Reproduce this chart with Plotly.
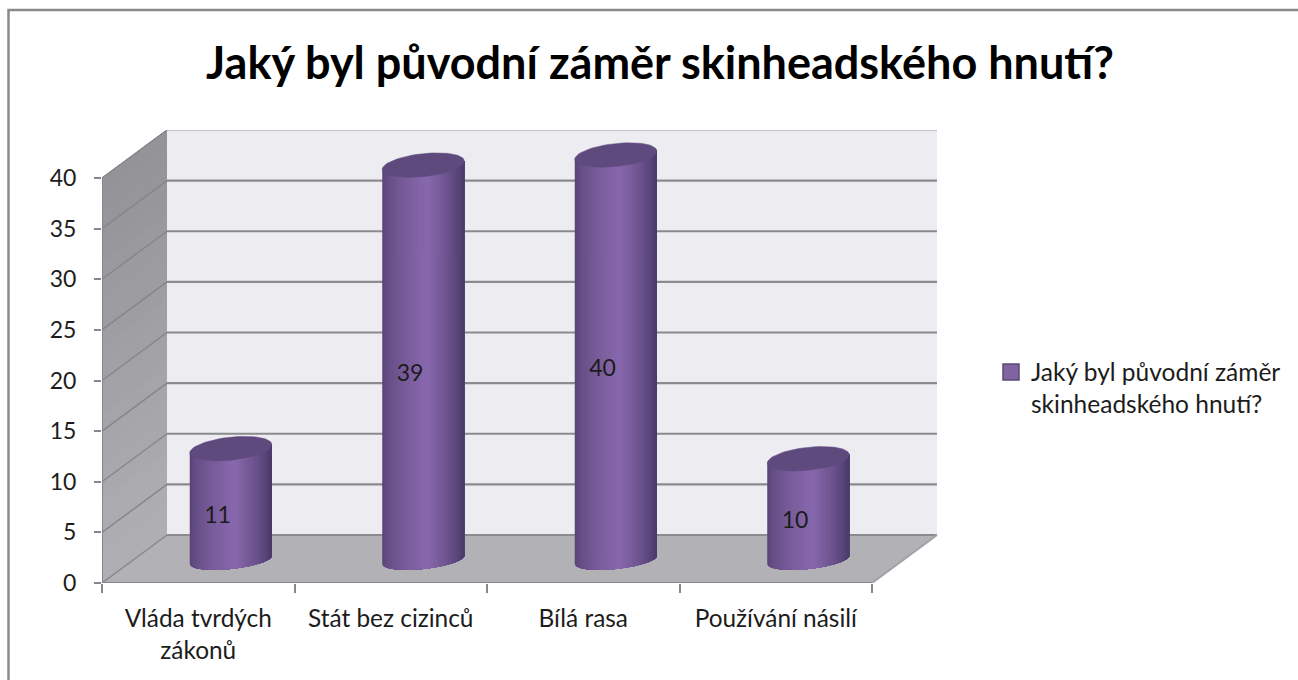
import math
import plotly.graph_objects as go

categories = ["Vláda tvrdých<br>zákonů", "Stát bez cizinců", "Bílá rasa", "Používání násilí"]
values = [11, 39, 40, 10]
value_ticks = [0, 5, 10, 15, 20, 25, 30, 35, 40]
title_text = "Jaký byl původní záměr skinheadského hnutí?"
series_name = "Jaký byl původní záměr<br>skinheadského hnutí?"

W, H = 1298, 680
X0, X1, Y0, Y1 = 102, 938, 583, 130.5   # plot area in px
PX_X = 192.5      # px per category
PX_Y = 10.125     # px per value unit
DX = 65 / PX_X    # depth offset in data units
DY = 48 / PX_Y
XMAX = (X1 - X0) / PX_X
YMAX = (Y0 - Y1) / PX_Y
N = len(categories)

GRID = "#8b8b8d"
FONT = "Lato"
TXT = "#1c1c1c"

fig = go.Figure()


def poly(xs, ys, color, lw=0.0):
    fig.add_trace(go.Scatter(x=xs, y=ys, mode="lines", fill="toself", fillcolor=color,
                             line=dict(color=color, width=lw), hoverinfo="skip", showlegend=False))


def line(xs, ys, color=GRID, width=2):
    fig.add_trace(go.Scatter(x=xs, y=ys, mode="lines", line=dict(color=color, width=width),
                             hoverinfo="skip", showlegend=False))


def lerp(a, b, t):
    return tuple(a[i] + (b[i] - a[i]) * t for i in range(3))


def rgb(c):
    return "rgb(%d,%d,%d)" % tuple(round(v) for v in c)


# back wall
poly([DX, N + DX, N + DX, DX, DX], [DY, DY, YMAX, YMAX, DY], "#edecf1")
# side wall, shaded in bands painted bottom to top, each overlapping the next
bands = 24
top_v = value_ticks[-1]
for i in range(bands):
    a, b = top_v * i / bands, top_v
    poly([0, DX, DX, 0, 0], [a, a + DY, b + DY, b, a],
         rgb(lerp((176, 175, 179), (147, 146, 150), (i + .5) / bands)))
# floor
poly([0, N, N + DX, DX, 0], [0, 0, DY, DY, 0], "#b2b1b5")

# grid
for v in value_ticks:
    line([0, DX], [v, v + DY], "#86858a", 1.4)
    line([DX, N + DX], [v + DY, v + DY], GRID, 2.2)
line([N, N + DX], [0, DY], "#a2a1a5", 2)
line([0, 0], [0, top_v], "#87878a", 2)
line([0, N], [0, 0], "#87878a", 2)

# cylinders
CX_OFF = 0.5 + DX / 2
BASE = 2.27            # floor contact centre, value units
A = 41 / PX_X
B_TOP = 11.5 / PX_Y
B_BASE = 9 / PX_Y
SHEAR = 4.2 / PX_Y
strips = 50
dark_l, light, dark_r = (84, 64, 114), (136, 104, 172), (72, 55, 102)
samples = 12
for s in range(strips):
    u0 = -1 + 2 * s / strips
    um = u0 + 1 / strips
    if um < 0.1:
        t = ((um + 1) / 1.1) ** 0.55
        col = lerp(dark_l, light, t)
    else:
        t = ((1 - um) / 0.9) ** 0.75
        col = lerp(dark_r, light, t)
    # each strip reaches to the right edge; the later ones paint over it
    us = [u0 + (1 - u0) * k / (samples * (strips - s)) for k in range(samples * (strips - s) + 1)]
    xs, ys = [], []
    for i, v in enumerate(values):
        cx = i + CX_OFF
        vt = BASE + v
        for u in us:
            xs.append(cx + A * u)
            ys.append(BASE + SHEAR * u - B_BASE * max(0.0, 1 - u * u) ** 0.5)
        for u in reversed(us):
            xs.append(cx + A * u)
            ys.append(vt + SHEAR * u)
        xs.append(xs[-2 * len(us)])
        ys.append(ys[-2 * len(us)])
        xs.append(None)
        ys.append(None)
    poly(xs, ys, rgb(col))

# top caps
steps = 72
xs, ys = [], []
for i, v in enumerate(values):
    cx = i + CX_OFF
    vt = BASE + v
    for k in range(steps + 1):
        th = 2 * math.pi * k / steps
        u = math.cos(th)
        xs.append(cx + A * u)
        ys.append(vt + SHEAR * u + B_TOP * math.sin(th))
    xs.append(None)
    ys.append(None)
poly(xs, ys, "#5f4a7e", 0.5)

# data labels
fig.add_trace(go.Scatter(
    x=[i + 0.5 + 0.1 for i in range(N)], y=[v / 2 + 1.0 for v in values],
    mode="text", text=[str(v) for v in values],
    textfont=dict(family=FONT, size=23, color=TXT), hoverinfo="skip", showlegend=False))

# legend entry
fig.add_trace(go.Scatter(x=[None], y=[None], mode="markers", name=series_name,
                         marker=dict(symbol="square", size=16, color="#8064a2",
                                     line=dict(color="#5c4776", width=1.5))))

fig.update_layout(
    width=W, height=H, margin=dict(l=0, r=0, t=0, b=0), autosize=False,
    paper_bgcolor="white", plot_bgcolor="white",
    font=dict(family=FONT, size=24, color=TXT),
    title=dict(text="<b>" + title_text + "</b>", x=660 / W, xanchor="center", y=1 - 63 / H, yanchor="middle",
               font=dict(family=FONT, size=45, color="#000000")),
    xaxis=dict(domain=[X0 / W, X1 / W], range=[0, XMAX], showgrid=False, zeroline=False, showline=False,
               automargin=False,
               tickmode="array", tickvals=[i + 0.5 for i in range(N)], ticktext=categories,
               ticks="", ticklabelstandoff=19, tickfont=dict(family=FONT, size=24.4, color=TXT),
               minor=dict(tickmode="array", tickvals=list(range(N + 1)), ticks="outside", ticklen=9,
                          tickcolor="#87878a", tickwidth=2, showgrid=False)),
    yaxis=dict(domain=[1 - Y0 / H, 1 - Y1 / H], range=[0, YMAX], showgrid=False, zeroline=False, showline=False,
               automargin=False,
               tickmode="array", tickvals=value_ticks, ticks="outside", ticklen=7, tickcolor="#87878a", tickwidth=2,
               ticklabelstandoff=13, tickfont=dict(family=FONT, size=23, color=TXT)),
    legend=dict(x=991 / W, y=1 - 388 / H, xanchor="left", yanchor="middle", bgcolor="rgba(0,0,0,0)",
                itemsizing="trace", valign="top", font=dict(family=FONT, size=24.5, color=TXT)),
    shapes=[dict(type="rect", xref="paper", yref="paper", x0=8.5 / W, x1=1.02, y0=-0.02, y1=1 - 10 / H,
                 line=dict(color="#8a8a8a", width=2.5), fillcolor="rgba(0,0,0,0)", layer="below")],
    showlegend=True,
)

fig.write_html("out.html", config={"displayModeBar": False}, post_script="document.body.style.margin='0';")
